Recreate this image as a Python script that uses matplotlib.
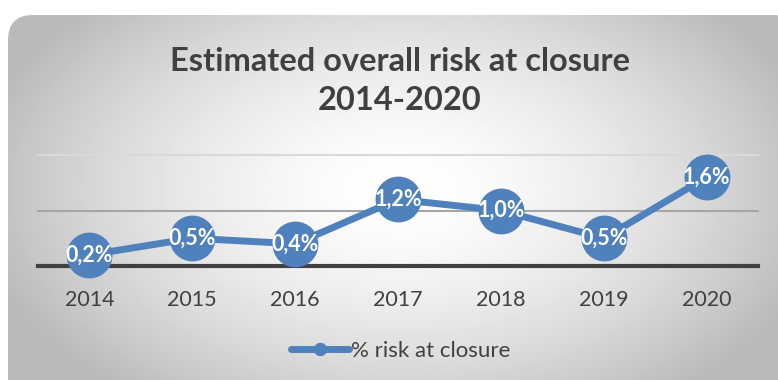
import numpy as np
import matplotlib
matplotlib.use('Agg')
from matplotlib import pyplot as plt
from matplotlib.patches import FancyBboxPatch

years = ['2014', '2015', '2016', '2017', '2018', '2019', '2020']
risk = [0.2, 0.5, 0.4, 1.2, 1.0, 0.5, 1.6]
series_name = '% risk at closure'
title = 'Estimated overall risk at closure\n2014-2020'

plt.rcParams['font.family'] = ['Lato', 'DejaVu Sans']

W, H = 778, 380
fig = plt.figure(figsize=(W / 100, H / 100), dpi=100)
fig.patch.set_facecolor('white')

# rounded frame filled with a radial grey-to-white gradient
bg = fig.add_axes([0, 0, 1, 1])
bg.set_xlim(0, W)
bg.set_ylim(0, H)
bg.axis('off')
yy, xx = np.mgrid[0:H, 0:W]
r = np.sqrt(((xx - 400) / 430.0) ** 2 + ((yy - 190) / 260.0) ** 2)
shade = 1.0 - 0.27 * np.clip(r, 0, 1) ** 1.6
img = bg.imshow(shade, cmap='gray', vmin=0, vmax=1, extent=(0, W, 0, H),
                origin='lower', interpolation='bilinear', aspect='auto')
frame = FancyBboxPatch((8 + 25, -40 + 25), 790 - 50, 405 - 50,
                       boxstyle='round,pad=0,rounding_size=25',
                       facecolor='none', edgecolor='none')
bg.add_patch(frame)
frame.set_boxstyle('round', pad=25, rounding_size=25)
img.set_clip_path(frame)

ax = fig.add_axes([38 / W, 0.3, 720 / W, 0.292])
ax.patch.set_alpha(0)
x = np.arange(len(years))
ax.plot(x, risk, color='#4f81bd', lw=5, marker='o', ms=32,
        solid_capstyle='round', label=series_name, zorder=3, clip_on=False)
for xi, v in zip(x, risk):
    ax.text(xi, v, ('%.1f%%' % v).replace('.', ','), color='white',
            fontsize=15.5, fontweight='bold', ha='center', va='center', zorder=4)

ax.set_xlim(-0.5, len(years) - 0.5)
ax.set_ylim(0, 2)
ax.axhline(2, color='#d9d9d9', lw=1.5, zorder=1, clip_on=False)
ax.axhline(1, color='#a6a6a6', lw=1.5, zorder=1, clip_on=False)
ax.axhline(0, color='#404040', lw=3, zorder=2, clip_on=False)
for s in ax.spines.values():
    s.set_visible(False)
ax.set_yticks([])
ax.set_xticks(x)
ax.set_xticklabels(years, fontsize=15.5, color='#404040')
ax.tick_params(axis='x', length=0, pad=17)

fig.text(400 / W, 1 - 81 / H, title, ha='center', va='center', fontsize=23.5,
         fontweight='bold', color='#404040', linespacing=1.45)

leg = fig.legend(loc='center', bbox_to_anchor=(401 / W, 1 - 351 / H),
                 frameon=False, fontsize=16, markerscale=0.27,
                 handlelength=2.6, handletextpad=0.1, labelcolor='#404040')

fig.savefig('out.png', dpi=100)
